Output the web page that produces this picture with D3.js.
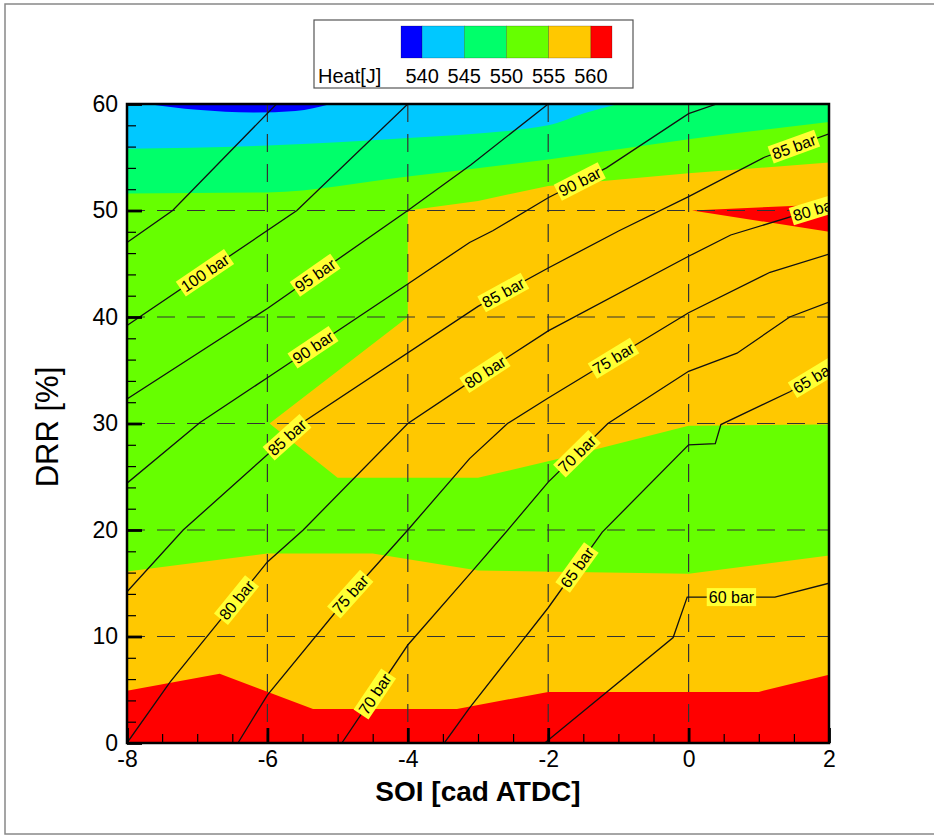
<!DOCTYPE html>
<html>
<head>
<meta charset="utf-8">
<title>Heat contour - SOI vs DRR</title>
<style>
  body { margin: 0; background: #fff; }
  svg text { font-family: Arial, "Liberation Sans", sans-serif; fill: #000; }
</style>
</head>
<body>
<script src="https://d3js.org/d3.v7.min.js"></script>
<script>
// legend levels and colours (below 540 ... above 560)
var heatLevels = [540, 545, 550, 555, 560];
var heatColors = ['#0000ff', '#00c8ff', '#00ff6a', '#66ff00', '#ffc800', '#ff0000'];

var soiTicks = [-8, -6, -4, -2, 0, 2];
var drrTicks = [0, 10, 20, 30, 40, 50, 60];

// colour band edges, [SOI, DRR]
var blueEdge = [[-7.7, 60], [-7, 59.45], [-6.2, 59.2], [-5.6, 59.35], [-5.1, 60]];
var cyanEdge = [[-8, 55.8], [-6, 56.1], [-4, 56.8], [-2, 58.0], [-1.5, 59.1], [-1.0, 60]];
var springEdge = [[-8, 51.6], [-6, 51.7], [-4, 53.2], [-2, 54.8], [0, 56.7], [2, 58.3]];
var orangeMid = [[-4, 50], [-3, 50.9], [-2, 52.3], [0, 53.5], [2, 54.5], [2, 29.9], [0, 29.8],
                 [-1.85, 26.7], [-3, 24.9], [-5, 24.9], [-5.97, 30], [-4, 40]];
var limeLowEdge = [[-8, 16.1], [-6, 17.8], [-4.5, 17.8], [-3, 16.2], [0, 15.9], [2, 17.6]];
var redEdge = [[-8, 4.9], [-6.68, 6.5], [-5.35, 3.2], [-3.3, 3.2], [-2.0, 4.8], [1.0, 4.8], [2, 6.4]];
var redPatch = [[0.05, 50.0], [1.55, 50.45], [2, 50.6], [2, 48.0]];

// isobars (peak pressure), [SOI, DRR]
var p105 = [[-8, 47.0], [-7.35, 50.0], [-5.87, 60]];
var p100 = [[-8, 39.2], [-5.58, 50.0], [-4.0, 60]];
var p95 = [[-8, 32.3], [-6, 40.8], [-4, 50.0], [-3.1, 54.3], [-2, 60]];
var p90 = [[-8, 24.4], [-6.96, 30.1], [-6, 34.3], [-4, 43.1], [-3.12, 47.0], [-2.79, 48.1],
           [-2, 51.2], [-1.17, 54.0], [0, 59.1], [0.4, 60]];
var p85 = [[-8, 14.2], [-7.2, 20.0], [-5.45, 30.3], [-3, 41.0], [-2, 44.6], [-0.99, 48.1],
           [0, 51.3], [1.08, 55.0], [2, 57.2]];
var p80 = [[-8, 0], [-7.39, 5.7], [-6, 17.0], [-5.49, 20.0], [-4, 30.0], [-3, 34.4], [-2, 38.7],
           [0, 45.7], [0.6, 47.7], [2, 50.5]];
var p75 = [[-6.42, 0], [-6.0, 4.5], [-4.83, 13.9], [-4, 20.0], [-3.12, 26.7], [-2.58, 30.0],
           [-2, 32.4], [0, 40.4], [1.16, 44.2], [2, 45.9]];
var p70 = [[-4.94, 0], [-4, 9.2], [-3.1, 16.0], [-2.55, 20.2], [-2, 24.5], [-1.15, 30.0],
           [0, 34.9], [0.69, 36.6], [1.44, 40.0], [2, 41.4]];
var p65 = [[-3.48, 0], [-3.12, 3.3], [-2, 12.7], [-1.23, 19.8], [0, 28.0], [0.38, 28.1],
           [0.46, 29.9], [1.45, 33.0], [2, 35.2]];
var p60 = [[-2.05, 0], [-0.22, 9.9], [-0.02, 13.7], [1.23, 13.7], [2, 15.0]];

var isobars = {105: p105, 100: p100, 95: p95, 90: p90, 85: p85, 80: p80, 75: p75, 70: p70, 65: p65, 60: p60};

// where the labels sit: [pressure, SOI]
var labelSpots = [[100, -6.89], [95, -5.32], [90, -5.35], [90, -1.55], [85, -5.72], [85, -2.64],
                  [85, 1.5], [80, -6.44], [80, -2.9], [80, 1.8], [75, -4.82], [75, -1.07],
                  [70, -4.47], [70, -1.59], [65, -1.59], [65, 1.78], [60, 0.61]];

var w = 934, h = 836;
var pL = 127, pR = 829, pT = 104, pB = 743;

var svg = d3.select('body').append('svg').attr('width', w).attr('height', h);

var x = d3.scaleLinear().domain([-8, 2]).range([pL, pR]);
var y = d3.scaleLinear().domain([0, 60]).range([pB, pT]);

// outer picture frame
svg.append('rect').attr('x', 5).attr('y', 4).attr('width', 1000).attr('height', 830)
  .attr('fill', 'none').attr('stroke', '#888').attr('stroke-width', 1.5);

svg.append('defs').append('clipPath').attr('id', 'plot')
  .append('rect').attr('x', pL).attr('y', pT).attr('width', pR - pL).attr('height', pB - pT);

var plot = svg.append('g').attr('clip-path', 'url(#plot)');

var topArea = d3.area().x(function(d) { return x(d[0]); })
  .y0(y(60)).y1(function(d) { return y(d[1]); }).curve(d3.curveMonotoneX);
var bottomArea = d3.area().x(function(d) { return x(d[0]); })
  .y0(y(0)).y1(function(d) { return y(d[1]); });
var poly = d3.line().x(function(d) { return x(d[0]); }).y(function(d) { return y(d[1]); })
  .curve(d3.curveLinearClosed);
var line = d3.line().x(function(d) { return x(d[0]); }).y(function(d) { return y(d[1]); });

// filled bands, painted bottom-up
plot.append('rect').attr('x', pL).attr('y', pT).attr('width', pR - pL)
  .attr('height', pB - pT).attr('fill', heatColors[3]);
plot.append('path').attr('d', bottomArea(limeLowEdge)).attr('fill', heatColors[4]);
plot.append('path').attr('d', poly(orangeMid)).attr('fill', heatColors[4]);
plot.append('path').attr('d', bottomArea(redEdge)).attr('fill', heatColors[5]);
plot.append('path').attr('d', poly(redPatch)).attr('fill', heatColors[5]);
plot.append('path').attr('d', topArea(springEdge)).attr('fill', heatColors[2]);
plot.append('path').attr('d', topArea(cyanEdge)).attr('fill', heatColors[1]);
plot.append('path').attr('d', topArea(blueEdge)).attr('fill', heatColors[0]);

// dashed grid
plot.selectAll('.gx').data(soiTicks.slice(1, -1)).enter().append('line')
  .attr('x1', function(d) { return x(d); }).attr('x2', function(d) { return x(d); })
  .attr('y1', pT).attr('y2', pB)
  .attr('stroke', '#333').attr('stroke-width', 1.2).attr('stroke-dasharray', '18,12');
plot.selectAll('.gy').data(drrTicks.slice(1, -1)).enter().append('line')
  .attr('y1', function(d) { return y(d); }).attr('y2', function(d) { return y(d); })
  .attr('x1', pL).attr('x2', pR)
  .attr('stroke', '#333').attr('stroke-width', 1.2).attr('stroke-dasharray', '18,12');

// isobars
plot.selectAll('.iso').data(Object.keys(isobars)).enter().append('path')
  .attr('d', function(k) { return line(isobars[k]); })
  .attr('fill', 'none').attr('stroke', '#111').attr('stroke-width', 1.3);

// inline labels
labelSpots.forEach(function(s) {
  var pts = isobars[s[0]];
  var i = 1;
  while (i < pts.length - 1 && pts[i][0] < s[1]) i++;
  var a = pts[i - 1], b = pts[i];
  var t = (s[1] - a[0]) / (b[0] - a[0]);
  var drr = a[1] + t * (b[1] - a[1]);
  var ang = Math.atan2(y(b[1]) - y(a[1]), x(b[0]) - x(a[0])) * 180 / Math.PI;
  var g = plot.append('g')
    .attr('transform', 'translate(' + x(s[1]) + ',' + y(drr) + ') rotate(' + ang + ')');
  var txt = g.append('text').text(s[0] + ' bar')
    .attr('text-anchor', 'middle').attr('dy', '0.36em').attr('font-size', 16);
  var tw = txt.node().getComputedTextLength();
  g.insert('rect', 'text').attr('x', -tw / 2 - 2).attr('y', -9)
    .attr('width', tw + 4).attr('height', 18).attr('fill', '#ffff33');
});

// axes with inward ticks (minor and major on separate groups)
var xMinor = d3.range(-8, 2.01, 0.5).filter(function(v) { return v % 2 !== 0; });
var yMinor = d3.range(0, 60.1, 2).filter(function(v) { return v % 10 !== 0; });

var gxMinor = svg.append('g').attr('transform', 'translate(0,' + pB + ')')
  .call(d3.axisBottom(x).tickValues(xMinor).tickSize(-9).tickFormat(''));
var gx = svg.append('g').attr('transform', 'translate(0,' + pB + ')')
  .call(d3.axisBottom(x).tickValues(soiTicks).tickSize(-15).tickPadding(8)
    .tickFormat(function(d) { return String(d); }));
var gyMinor = svg.append('g').attr('transform', 'translate(' + pL + ',0)')
  .call(d3.axisLeft(y).tickValues(yMinor).tickSize(-9).tickFormat(''));
var gy = svg.append('g').attr('transform', 'translate(' + pL + ',0)')
  .call(d3.axisLeft(y).tickValues(drrTicks).tickSize(-15).tickPadding(9)
    .tickFormat(function(d) { return String(d); }));

[gxMinor, gx, gyMinor, gy].forEach(function(g) { g.select('.domain').remove(); });
gxMinor.selectAll('.tick line').attr('stroke', '#000').attr('stroke-width', 1.2);
gyMinor.selectAll('.tick line').attr('stroke', '#000').attr('stroke-width', 1.2);
gx.selectAll('.tick line').attr('stroke', '#000').attr('stroke-width', 2.8);
gy.selectAll('.tick line').attr('stroke', '#000').attr('stroke-width', 2.8);
gx.attr('font-size', 23);
gy.attr('font-size', 23);

svg.append('rect').attr('x', pL).attr('y', pT).attr('width', pR - pL)
  .attr('height', pB - pT).attr('fill', 'none').attr('stroke', '#000').attr('stroke-width', 2.5);

// axis titles
svg.append('text').attr('x', 478).attr('y', 801).attr('text-anchor', 'middle')
  .attr('font-size', 28).attr('font-weight', 'bold').text('SOI [cad ATDC]');
svg.append('text').attr('transform', 'translate(58,427) rotate(-90)').attr('text-anchor', 'middle')
  .attr('font-size', 31).text('DRR [%]');

// legend
var lx = d3.scaleLinear().domain([537.5, 562.5]).range([401, 612]);
var bins = [537.5].concat(heatLevels, [562.5]);
var legend = svg.append('g');
legend.append('rect').attr('x', 314).attr('y', 20).attr('width', 319).attr('height', 68)
  .attr('fill', '#fff').attr('stroke', '#555').attr('stroke-width', 1.2);
legend.selectAll('.sw').data(heatColors).enter().append('rect')
  .attr('x', function(d, i) { return lx(bins[i]); })
  .attr('width', function(d, i) { return lx(bins[i + 1]) - lx(bins[i]); })
  .attr('y', 26).attr('height', 32)
  .attr('fill', function(d) { return d; })
  .attr('stroke', 'rgba(0,0,0,0.35)').attr('stroke-width', 0.6);
legend.selectAll('.lv').data(heatLevels).enter().append('text')
  .attr('x', function(d) { return lx(d); }).attr('y', 83)
  .attr('text-anchor', 'middle').attr('font-size', 20).text(function(d) { return d; });
legend.append('text').attr('x', 318).attr('y', 83).attr('font-size', 20).text('Heat[J]');
</script>
</body>
</html>
